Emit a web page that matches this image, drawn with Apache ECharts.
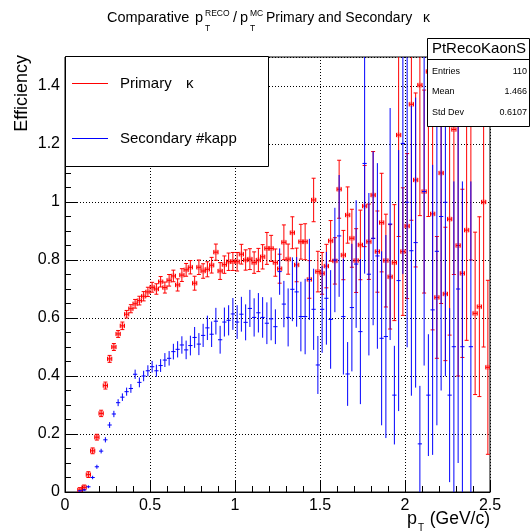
<!DOCTYPE html>
<html><head><meta charset="utf-8">
<script src="https://cdn.jsdelivr.net/npm/echarts@6/dist/echarts.min.js"></script>
<style>html,body{margin:0;padding:0;background:#fff}#c{width:531px;height:531px}</style>
</head><body><div id="c"></div>
<script>
// Histogram binning (x axis): 100 bins from 0 to 2.5 GeV/c
const xMin = 0, xMax = 2.5, nBins = 100;
const xTickLabels = ['0','0.5','1','1.5','2','2.5'];
const yTickLabels = ['0','0.2','0.4','0.6','0.8','1','1.2','1.4'];

// Primary efficiency per bin (null = empty bin)
const primaryEff = [null,null,null,0.007,0.016,0.060,0.142,0.189,0.271,0.367,
0.459,0.500,0.545,0.573,0.613,0.632,0.649,0.660,0.675,0.690,
0.706,0.700,0.725,0.705,0.730,0.745,0.714,0.748,0.766,0.775,
0.720,0.775,0.762,0.768,0.782,0.827,0.762,0.784,0.794,0.795,
0.794,0.820,0.800,0.803,0.791,0.800,0.811,0.840,0.840,0.791,
0.770,0.861,0.803,0.894,0.783,0.863,0.863,0.733,1.007,0.760,
0.754,0.779,0.866,0.797,1.044,0.817,0.955,0.875,0.798,0.852,
0.986,0.863,1.024,0.829,0.929,0.798,0.742,0.791,1.231,0.829,
0.917,1.337,1.076,1.403,1.036,1.450,0.959,0.671,1.100,0.683,
0.941,1.250,0.850,0.754,0.903,1.300,0.616,0.639,1.000,0.430];
const primaryErr = [null,null,null,0.008,0.008,0.010,0.010,0.010,0.011,0.012,
0.012,0.012,0.012,0.013,0.013,0.014,0.015,0.015,0.016,0.016,
0.017,0.018,0.018,0.019,0.020,0.020,0.021,0.022,0.022,0.023,
0.024,0.025,0.025,0.026,0.027,0.028,0.029,0.030,0.030,0.031,
0.032,0.034,0.035,0.036,0.037,0.040,0.042,0.055,0.045,0.047,
0.050,0.060,0.052,0.055,0.058,0.060,0.062,0.065,0.075,0.070,
0.072,0.075,0.070,0.080,0.100,0.085,0.097,0.100,0.110,0.120,
0.140,0.130,0.150,0.140,0.170,0.160,0.180,0.200,0.350,0.220,
0.250,0.400,0.300,0.450,0.350,0.500,0.400,0.210,0.450,0.230,
0.400,0.500,0.450,0.290,0.380,0.500,0.280,0.310,0.500,0.300];

// Secondary efficiency per bin
const secondaryEff = [null,null,null,0.004,0.007,0.018,0.050,0.087,0.141,0.180,
0.231,0.269,0.308,0.327,0.346,0.357,0.406,0.378,0.400,0.418,
0.432,0.418,0.436,0.455,0.461,0.484,0.492,0.507,0.490,0.505,
0.533,0.510,0.540,0.566,0.544,0.589,0.525,0.586,0.592,0.614,
0.586,0.613,0.585,0.633,0.602,0.618,0.602,0.582,0.597,0.570,
0.760,0.648,0.602,0.699,0.690,0.605,0.605,0.733,0.630,0.438,
0.630,0.668,0.595,0.800,0.883,0.605,0.407,0.636,0.786,0.553,
1.133,0.751,0.875,0.814,0.530,0.536,0.924,0.334,0.729,1.202,
0.999,0.832,0.860,0.166,1.036,0.334,0.628,0.830,0.950,0.999,
0.334,0.501,0.700,0.501,null,0.501,null,null,null,null];
const secondaryErr = [null,null,null,0.003,0.004,0.005,0.006,0.007,0.008,0.009,
0.010,0.011,0.012,0.013,0.014,0.015,0.016,0.017,0.018,0.019,
0.020,0.021,0.022,0.024,0.025,0.027,0.028,0.030,0.032,0.034,
0.036,0.038,0.040,0.042,0.044,0.046,0.048,0.050,0.052,0.055,
0.058,0.060,0.062,0.064,0.066,0.068,0.070,0.072,0.074,0.060,
0.080,0.080,0.100,0.110,0.120,0.120,0.130,0.140,0.140,0.100,
0.150,0.160,0.170,0.180,0.210,0.200,0.110,0.220,0.220,0.250,
0.380,0.280,0.300,0.320,0.300,0.350,0.400,0.170,0.450,0.450,
0.500,0.500,0.500,0.200,0.600,0.210,0.500,0.600,0.600,0.600,
0.300,0.570,0.600,0.570,null,0.570,null,null,null,null];

const statsName = 'PtRecoKaonS';
const statsRows = [['Entries','110'],['Mean','1.466'],['Std Dev','0.6107']];

const binW = (xMax - xMin) / nBins;
function toData(vals, errs){
  const out = [];
  vals.forEach((v,i)=>{ if(v!==null) out.push([xMin + (i+0.5)*binW, v, errs[i]]); });
  return out;
}
const FONT = 'Liberation Sans, Arial, Helvetica, sans-serif';

function makeRender(color, withCaps, withMarker){
  return function(params, api){
    const x = api.value(0), y = api.value(1), e = api.value(2);
    const c = api.coord([x, y]);
    const hi = api.coord([x, y + e]);
    const lo = api.coord([x, y - e]);
    const hw = api.size([binW, 0])[0] / 2;
    const st = {stroke: color, lineWidth: 1, fill: null};
    const ch = [];
    if (withMarker) ch.push({type:'rect', shape:{x:c[0]-2.5, y:c[1]-2.5, width:5, height:5}, style:{fill:'rgba(255,0,0,0.3)'}});
    ch.push({type:'line', shape:{x1:c[0], y1:hi[1], x2:c[0], y2:lo[1]}, style:st});
    ch.push({type:'line', shape:{x1:c[0]-hw, y1:c[1], x2:c[0]+hw, y2:c[1]}, style:st});
    if (withCaps) {
      ch.push({type:'line', shape:{x1:c[0]-2, y1:hi[1], x2:c[0]+2, y2:hi[1]}, style:st});
      ch.push({type:'line', shape:{x1:c[0]-2, y1:lo[1], x2:c[0]+2, y2:lo[1]}, style:st});
      ch.push({type:'line', shape:{x1:c[0]-hw, y1:c[1]-2, x2:c[0]-hw, y2:c[1]+2}, style:st});
      ch.push({type:'line', shape:{x1:c[0]+hw, y1:c[1]-2, x2:c[0]+hw, y2:c[1]+2}, style:st});
    }
    return {type:'group', children: ch};
  };
}

function txt(text, x, y, size, align, extra){
  return Object.assign({type:'text', x:x, y:y, z:100,
    style:{text:text, font: size+'px '+FONT, fill:'#000', align:align||'left', verticalAlign:'middle',
      textAlign:align||'left', textVerticalAlign:'middle'}}, extra||{});
}

const chart = echarts.init(document.getElementById('c'), null, {renderer:'canvas'});
const gridL = 65, gridT = 57, gridR = 41, gridB = 39;
const axisCommon = {
  axisLine:{show:true, lineStyle:{color:'#000', width:1}},
  axisTick:{show:true, inside:true, length:12, lineStyle:{color:'#000'}},
  splitLine:{show:true, lineStyle:{color:'#000', width:1, type:[1,2]}},
};
chart.setOption({
  animation:false,
  backgroundColor:'#fff',
  grid:{left:gridL, top:gridT, right:gridR, bottom:gridB, show:true, borderColor:'#000', borderWidth:1, backgroundColor:'transparent'},
  xAxis:Object.assign({type:'value', min:xMin, max:xMax, interval:0.5,
    axisLabel:{fontSize:16, fontFamily:FONT, color:'#000', margin:6,
      formatter:(v)=>{ const i=Math.round(v/0.5); return xTickLabels[i]; }},
  }, axisCommon, {minorTick:{show:true, splitNumber:5, length:6, lineStyle:{color:'#000'}}}),
  yAxis:Object.assign({type:'value', min:0, max:1.5, interval:0.2,
    axisLabel:{fontSize:16, fontFamily:FONT, color:'#000', margin:5, showMaxLabel:false,
      formatter:(v)=>{ const i=Math.round(v/0.2); return Math.abs(v-i*0.2)<1e-6 ? (yTickLabels[i]||'') : ''; }},
  }, axisCommon, {minorTick:{show:true, splitNumber:4, length:6, lineStyle:{color:'#000'}}}),
  series:[
    {type:'custom', name:'Primary', clip:true, encode:{x:0,y:1}, data:toData(primaryEff, primaryErr),
     renderItem:makeRender('#ff0000', true, true)},
    {type:'custom', name:'Secondary', clip:true, encode:{x:0,y:1}, data:toData(secondaryEff, secondaryErr),
     renderItem:makeRender('#0000ff', false, false)}
  ],
  graphic:[
    // Title
    txt('Comparative', 107, 18, 14.5),
    txt('p', 195, 18, 14.5),
    txt('RECO', 205, 13.5, 8.5),
    txt('T', 205, 29, 8.5),
    txt('/', 233, 18, 14.5),
    txt('p', 240, 18, 14.5),
    txt('MC', 250, 13.5, 8.5),
    txt('T', 250, 29, 8.5),
    txt('Primary and Secondary', 266, 18, 14),
    txt('κ', 423, 18, 14),
    // Legend box
    {type:'rect', z:90, shape:{x:65.5, y:56.5, width:203, height:110}, style:{fill:'#fff', stroke:'#000', lineWidth:1}},
    {type:'rect', z:100, shape:{x:72, y:83, width:36, height:1}, style:{fill:'#ff0000'}},
    {type:'rect', z:100, shape:{x:72, y:138, width:36, height:1}, style:{fill:'#0000ff'}},
    txt('Primary', 120, 84, 15),
    txt('κ', 186, 84, 15),
    txt('Secondary #kapp', 120, 138.5, 15),
    // Stats box
    {type:'rect', z:90, shape:{x:427.5, y:38.5, width:102, height:88}, style:{fill:'#fff', stroke:'#000', lineWidth:1}},
    {type:'line', z:100, shape:{x1:427.5, y1:59.5, x2:529.5, y2:59.5}, style:{stroke:'#000', lineWidth:1}},
    txt(statsName, 479, 48.5, 15, 'center'),
    txt(statsRows[0][0], 432, 72, 9), txt(statsRows[0][1], 527, 72, 9, 'right'),
    txt(statsRows[1][0], 432, 92, 9), txt(statsRows[1][1], 527, 92, 9, 'right'),
    txt(statsRows[2][0], 432, 113, 9), txt(statsRows[2][1], 527, 113, 9, 'right'),
    // Axis titles
    txt('Efficiency', 22, 55, 18, 'right', {rotation: Math.PI/2}),
    txt('p', 407, 519, 18),
    txt('T', 418, 528, 10),
    txt('(GeV/c)', 490, 519, 17.5, 'right')
  ]
});
</script></body></html>
